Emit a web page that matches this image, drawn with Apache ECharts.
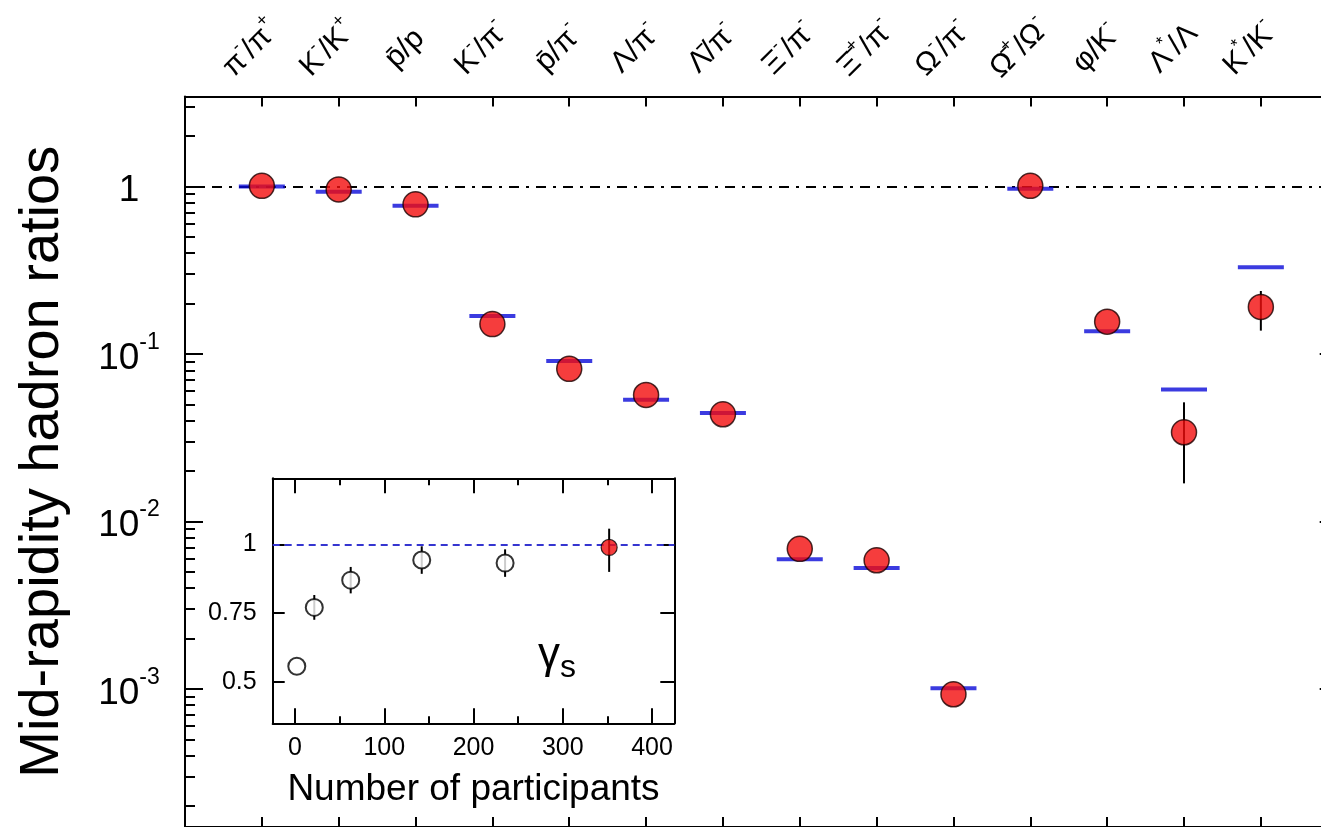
<!DOCTYPE html>
<html><head><meta charset="utf-8">
<script src="https://cdn.jsdelivr.net/npm/echarts@6/dist/echarts.min.js"></script>
<style>html,body{margin:0;padding:0;background:#fff}#c{width:1321px;height:827px}</style>
</head><body><div id="c"></div>
<script>
// ---- main panel data ----
const categories = ['π⁻/π⁺','K⁻/K⁺','p\u0304/p','K⁻/π⁻','p\u0304/π⁻','Λ/π⁻','Λ\u0304/π⁻','Ξ⁻/π⁻','Ξ\u0304⁺/π⁻','Ω⁻/π⁻','Ω\u0304⁺/Ω⁻','φ/K⁻','Λ*/Λ','K*/K⁻'];
const measured = [1.01, 0.962, 0.783, 0.151, 0.0816, 0.0570, 0.0437, 0.00687, 0.00587, 0.00093, 1.01, 0.156, 0.0341, 0.191];
const measuredErrLow  = [null, null, null, null, null, null, null, null, null, null, null, null, 0.0169, 0.138];
const measuredErrHigh = [null, null, null, null, null, null, null, null, null, null, null, null, 0.0515, 0.238];
const model = [1.0, 0.93, 0.768, 0.169, 0.091, 0.0534, 0.0445, 0.00596, 0.00527, 0.00101, 0.972, 0.137, 0.0614, 0.330];
const yMajorTicks = [0.001, 0.01, 0.1, 1];
const yMinorTicks = [2e-4,3e-4,4e-4,5e-4,6e-4,7e-4,8e-4,9e-4,
  0.002,0.003,0.004,0.005,0.006,0.007,0.008,0.009,
  0.02,0.03,0.04,0.05,0.06,0.07,0.08,0.09,
  0.2,0.3,0.4,0.5,0.6,0.7,0.8,0.9,2,3];
// ---- inset data ----
const npart = [2, 21.6, 62.4, 142, 235.4];
const gammaS = [0.557, 0.771, 0.870, 0.943, 0.932];
const gammaSErr = [0, 0.045, 0.048, 0.05, 0.05];
const npartCentral = [352];
const gammaSCentral = [0.989];
const gammaSCentralLow = [0.90];
const gammaSCentralHigh = [1.057];
const insetXMajor = [0, 100, 200, 300, 400];
const insetXMinor = [50, 150, 250, 350];
const insetYTicks = [0.5, 0.75, 1];

const FONT = 'Liberation Sans, Arial, sans-serif';
const supMap = {'⁻':'-','⁺':'+','*':'*'};
function catLabel(s){
  let out = '', run = '';
  for (const ch of s){
    if (supMap[ch] !== undefined){
      if (run) { out += '{n|' + run + '}'; run=''; }
      out += '{s|' + supMap[ch] + '}';
    } else run += ch;
  }
  if (run) out += '{n|' + run + '}';
  return out;
}
const black = '#000';
const lineW = 2;

function errBar(xi, yi, data, w, z){
  return {
    type: 'custom', xAxisIndex: xi, yAxisIndex: yi, z: z, silent: true,
    encode: {x: 0, y: [1, 2]},
    data: data,
    renderItem: function(params, api){
      const p1 = api.coord([api.value(0), api.value(1)]);
      const p2 = api.coord([api.value(0), api.value(2)]);
      return {type:'line', shape:{x1:p1[0], y1:p1[1], x2:p2[0], y2:p2[1]}, style:{stroke:black, lineWidth:w}};
    }
  };
}

const mainErr = [];
measured.forEach((v,i)=>{ if (measuredErrLow[i]!=null) mainErr.push([i+1, measuredErrLow[i], measuredErrHigh[i]]); });
const insetErr = [];
npart.forEach((n,i)=>{ if (gammaSErr[i]>0) insetErr.push([n, gammaS[i]-gammaSErr[i], gammaS[i]+gammaSErr[i]]); });
insetErr.push([npartCentral[0], gammaSCentralLow[0], gammaSCentralHigh[0]]);

const axisLineStyle = {show:true, onZero:false, lineStyle:{color:black, width:lineW}};
const noLine = {show:false, onZero:false};

const option = {
  animation: false,
  backgroundColor: '#fff',
  textStyle: {fontFamily: FONT},
  grid: [
    {left: 185, top: 96.5, width: 1152.7, height: 730.5, containLabel: false, outerBoundsMode: 'none'},
    {left: 272.7, top: 478.3, width: 401.6, height: 245, containLabel: false, outerBoundsMode: 'none', show: false}
  ],
  xAxis: [
    {gridIndex:0, type:'value', position:'top', min:0, max:15, interval:1,
     axisLine: axisLineStyle, splitLine:{show:false},
     axisTick:{inside:true, length:10, lineStyle:{color:black, width:lineW}},
     axisLabel:{show:true, margin:50, rotate:-45, align:'center', verticalAlign:'middle', padding:[0,18,18,0],
       hideOverlap:false,
       formatter: v => (v>=1 && v<=categories.length) ? catLabel(categories[v-1]) : '',
       rich:{ n:{fontSize:30, color:black, fontFamily:FONT, lineHeight:36, verticalAlign:'bottom'},
              s:{fontSize:18, color:black, fontFamily:FONT, lineHeight:18, verticalAlign:'top'} } }},
    {gridIndex:0, type:'value', position:'bottom', min:0, max:15, interval:1,
     axisLine: axisLineStyle, splitLine:{show:false},
     axisTick:{inside:true, length:10, lineStyle:{color:black, width:lineW}},
     axisLabel:{show:false}},
    {gridIndex:1, type:'value', position:'bottom', min:-25, max:425,
     axisLine: axisLineStyle, splitLine:{show:false},
     axisTick:{inside:true, length:15, customValues: insetXMajor, lineStyle:{color:black, width:lineW}},
     axisLabel:{customValues: insetXMajor, fontSize:25, color:black, margin:12, fontFamily:FONT},
     name:'Number of participants', nameLocation:'middle', nameGap:48,
     nameTextStyle:{fontSize:37, color:black, fontFamily:FONT}},
    {gridIndex:1, type:'value', position:'bottom', min:-25, max:425,
     axisLine: noLine, splitLine:{show:false},
     axisTick:{inside:true, length:7, customValues: insetXMinor, lineStyle:{color:black, width:lineW}},
     axisLabel:{show:false}},
    {gridIndex:1, type:'value', position:'top', min:-25, max:425,
     axisLine: axisLineStyle, splitLine:{show:false},
     axisTick:{inside:true, length:15, customValues: insetXMajor, lineStyle:{color:black, width:lineW}},
     axisLabel:{show:false}},
    {gridIndex:1, type:'value', position:'top', min:-25, max:425,
     axisLine: noLine, splitLine:{show:false},
     axisTick:{inside:true, length:7, customValues: insetXMinor, lineStyle:{color:black, width:lineW}},
     axisLabel:{show:false}}
  ],
  yAxis: [
    {gridIndex:0, type:'log', logBase:10, min:1.5e-4, max:3.45, position:'left',
     axisLine: axisLineStyle, splitLine:{show:false}, minorTick:{show:false},
     axisTick:{inside:true, length:18, customValues: yMajorTicks, lineStyle:{color:black, width:lineW}},
     axisLabel:{customValues: yMajorTicks, align:'center', margin:56,
       formatter: v => { const e = Math.round(Math.log10(v)); return e===0 ? '{b|1}' : '{b|10}{s|' + e + '}'; },
       rich:{ b:{fontSize:37, color:black, fontFamily:FONT, lineHeight:46, verticalAlign:'bottom'},
              s:{fontSize:23, color:black, fontFamily:FONT, lineHeight:22, verticalAlign:'top'} } },
     name:'Mid-rapidity hadron ratios', nameLocation:'middle', nameRotate:90, nameGap:114,
     nameTextStyle:{fontSize:56, color:black, fontFamily:FONT}},
    {gridIndex:0, type:'log', logBase:10, min:1.5e-4, max:3.45, position:'left',
     axisLine: noLine, splitLine:{show:false},
     axisTick:{inside:true, length:10, customValues: yMinorTicks, lineStyle:{color:black, width:lineW}},
     axisLabel:{show:false}},
    {gridIndex:0, type:'log', logBase:10, min:1.5e-4, max:3.45, position:'right',
     axisLine: axisLineStyle, splitLine:{show:false},
     axisTick:{inside:true, length:18, customValues: yMajorTicks, lineStyle:{color:black, width:lineW}},
     axisLabel:{show:false}},
    {gridIndex:1, type:'value', min:0.35, max:1.24, position:'left',
     axisLine: axisLineStyle, splitLine:{show:false},
     axisTick:{inside:true, length:12, customValues: insetYTicks, lineStyle:{color:black, width:lineW}},
     axisLabel:{customValues: insetYTicks, fontSize:25, color:black, margin:16, fontFamily:FONT,
       formatter: v => String(v)}},
    {gridIndex:1, type:'value', min:0.35, max:1.24, position:'right',
     axisLine: axisLineStyle, splitLine:{show:false},
     axisTick:{inside:true, length:14, customValues: insetYTicks, lineStyle:{color:black, width:lineW}},
     axisLabel:{show:false}}
  ],
  graphic: [
    {type:'text', left:538, top:634, z:100,
     style:{text:'{g|γ}{s|s}', rich:{
       g:{fontSize:44, fill:black, fontFamily:FONT, lineHeight:50, verticalAlign:'top'},
       s:{fontSize:32, fill:black, fontFamily:FONT, lineHeight:30, verticalAlign:'bottom'} }}}
  ],
  series: [
    {type:'scatter', name:'model', xAxisIndex:0, yAxisIndex:0, z:2, silent:true,
     symbol:'rect', symbolSize:[46,4], itemStyle:{color:'#0a0ad8'},
     data: model.map((v,i)=>[i+1, v]),
     markLine:{silent:true, symbol:'none', label:{show:false}, z:1,
       lineStyle:{color:black, width:2, type:[10,7,3,7]},
       data:[{yAxis:1}]}},
    errBar(0, 0, mainErr, 2, 2),
    {type:'scatter', name:'data', xAxisIndex:0, yAxisIndex:0, z:3, silent:true,
     symbol:'circle', symbolSize:25, itemStyle:{color:'#f20d0d', borderColor:'#1a0000', borderWidth:1.5},
     data: measured.map((v,i)=>[i+1, v])},
    {type:'scatter', name:'gammaS', xAxisIndex:2, yAxisIndex:3, z:10, silent:true,
     symbol:'circle', symbolSize:17, itemStyle:{color:'#fff', borderColor:black, borderWidth:2},
     data: npart.map((n,i)=>[n, gammaS[i]]),
     markLine:{silent:true, symbol:'none', label:{show:false}, z:9,
       lineStyle:{color:'#3535d0', width:2, type:[7,5]},
       data:[{yAxis:1}]}},
    errBar(2, 3, insetErr, 2, 9),
    {type:'scatter', name:'gammaSCentral', xAxisIndex:2, yAxisIndex:3, z:11, silent:true,
     symbol:'circle', symbolSize:16, itemStyle:{color:'#f20d0d', borderColor:black, borderWidth:1.2},
     data: npartCentral.map((n,i)=>[n, gammaSCentral[i]])}
  ]
};
const chart = echarts.init(document.getElementById('c'), null, {renderer:'canvas'});
chart.setOption(option);
</script></body></html>
